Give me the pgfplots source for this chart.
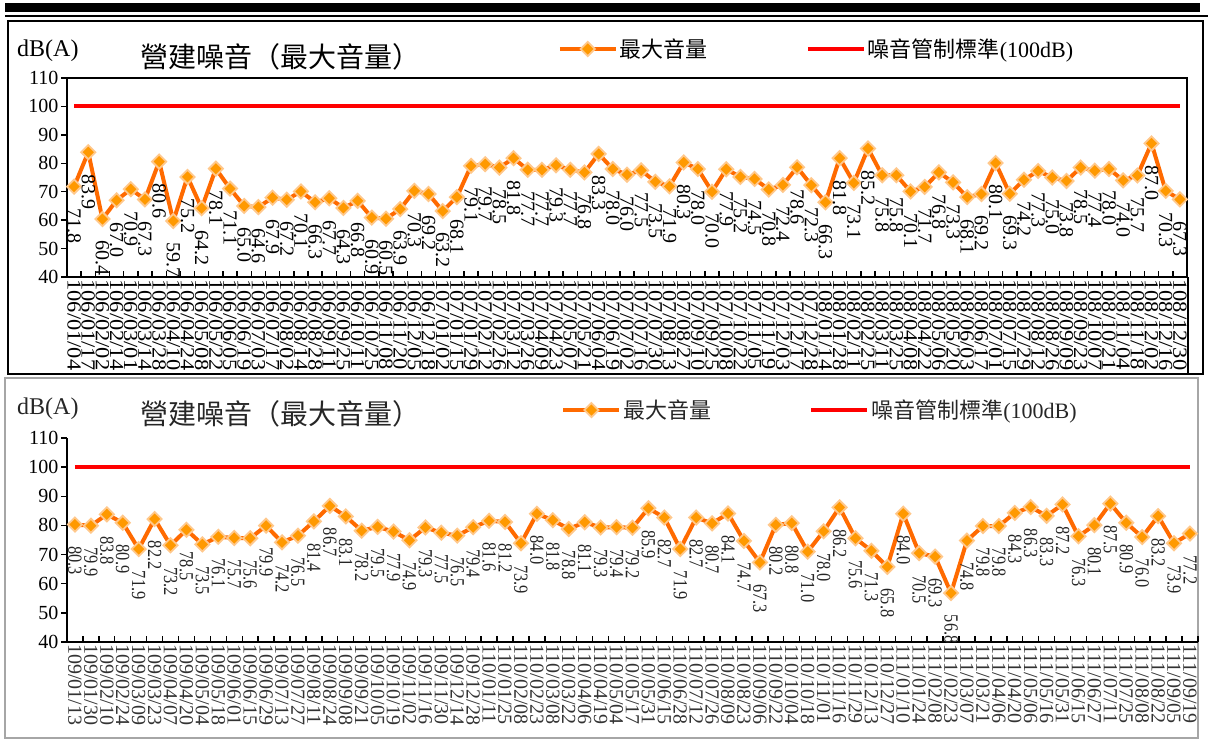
\documentclass[border=0pt]{standalone}
\usepackage{pgfplots}
\pgfplotsset{compat=1.18}
\usepackage{pgfplotstable}
\usepackage{fontspec}
\setmainfont{Liberation Serif}
\newfontfamily\cjk{Noto Sans CJK TC}
\definecolor{lineor}{HTML}{FF6A00}
\definecolor{markor}{HTML}{FF9900}
\definecolor{markedge}{HTML}{FFC88C}
\definecolor{redline}{HTML}{FF0000}

\pgfplotstableread{
x y
0 71.8
1 83.9
2 60.4
3 67.0
4 70.9
5 67.3
6 80.6
7 59.7
8 75.2
9 64.2
10 78.1
11 71.1
12 65.0
13 64.6
14 67.9
15 67.2
16 70.1
17 66.3
18 67.7
19 64.3
20 66.8
21 60.9
22 60.5
23 63.9
24 70.3
25 69.2
26 63.2
27 68.1
28 79.1
29 79.7
30 78.5
31 81.8
32 77.7
33 77.7
34 79.3
35 77.7
36 76.8
37 83.3
38 78.0
39 76.0
40 77.5
41 73.5
42 71.9
43 80.3
44 78.0
45 70.0
46 77.9
47 75.2
48 74.5
49 70.8
50 72.4
51 78.6
52 72.3
53 66.3
54 81.8
55 73.1
56 85.2
57 75.8
58 75.8
59 70.1
60 71.7
61 76.8
62 73.3
63 68.1
64 69.2
65 80.1
66 69.3
67 74.2
68 77.3
69 75.0
70 73.8
71 78.5
72 77.4
73 78.0
74 74.0
75 75.7
76 87.0
77 70.3
78 67.3
}\topdata

\pgfplotstableread{
x y
0 80.3
1 79.9
2 83.8
3 80.9
4 71.9
5 82.2
6 73.2
7 78.5
8 73.5
9 76.1
10 75.7
11 75.6
12 79.9
13 74.2
14 76.5
15 81.4
16 86.7
17 83.1
18 78.2
19 79.5
20 77.9
21 74.9
22 79.3
23 77.5
24 76.5
25 79.4
26 81.6
27 81.2
28 73.9
29 84.0
30 81.8
31 78.8
32 81.1
33 79.3
34 79.4
35 79.2
36 85.9
37 82.7
38 71.9
39 82.7
40 80.7
41 84.1
42 74.7
43 67.3
44 80.2
45 80.8
46 71.0
47 78.0
48 86.2
49 75.6
50 71.3
51 65.8
52 84.0
53 70.5
54 69.3
55 56.8
56 74.8
57 79.8
58 79.8
59 84.3
60 86.3
61 83.3
62 87.2
63 76.3
64 80.1
65 87.5
66 80.9
67 76.0
68 83.2
69 73.9
70 77.2
}\botdata

\pgfplotsset{
  noisestyle/.style={
    scale only axis,
    clip=false,
    ymin=40, ymax=110, ytick={40,50,...,110},
    xmin=-0.5,
    tick align=inside,
    xtick pos=bottom, ytick pos=left,
    x tick label as interval,
    axis line style={line width=2.2pt},
    major tick length=6pt,
    every tick/.style={black, line width=1.4pt},
    ytick style={xshift=-6pt},
    yticklabel style={font=\fontsize{20}{20}\selectfont, xshift=-5pt},
    /pgf/number format/assume math mode=true,
    xticklabel style={rotate=-90, anchor=west, font=\fontsize{20}{20}\selectfont, inner sep=2pt},
    legend style={draw=none, fill=none, legend columns=2, anchor=west, inner sep=0pt,
      font=\cjk\fontsize{22}{22}\selectfont,
      nodes={inner sep=2pt},
      /tikz/every even column/.append style={column sep=96pt}},
  },
  maxline/.style={lineor, line width=4pt,
      mark=square*, mark size=5pt,
      mark options={rotate=45, fill=markor, draw=markedge, line width=1.8pt, solid},
      legend image code/.code={\draw[##1, mark repeat=2, mark phase=2] plot coordinates {(0pt,0pt) (28pt,0pt) (56pt,0pt)};}},
  stdline/.style={redline, line width=4pt,
      legend image code/.code={\draw[##1] (0pt,0pt) -- (56pt,0pt);}},
}

\begin{document}
\begin{tikzpicture}
\useasboundingbox (0,0) rectangle (1208pt,-740pt);
% header bars and frames
\fill[black] (5pt,-3pt) rectangle (1200pt,-12pt);
\fill[black] (5pt,-14.5pt) rectangle (1208pt,-17pt);
\draw[black, line width=2pt] (8pt,-21pt) rectangle (1203pt,-374pt);
\draw[black, line width=1.5pt] (1188pt,-277pt) -- (1188pt,-374pt);
\draw[gray!70, line width=1.5pt] (5pt,-378pt) rectangle (1198pt,-738pt);

% ---------- top panel ----------
\node[anchor=west, inner sep=0pt, font=\fontsize{24}{24}\selectfont] at (17pt,-51pt) {dB(A)};
\node[anchor=west, inner sep=0pt, font=\cjk\fontsize{28}{28}\selectfont] at (140pt,-57pt) {營建噪音（最大音量）};
\begin{axis}[noisestyle,
  at={(67pt,-277pt)}, anchor=south west,
  width=1120pt, height=199pt,
  xmax=78.5,
  xtick={-0.5,0.5,...,78.5},
  xticklabel style={xscale=1.12},
  xticklabels={106/01/04,106/01/17,106/02/02,106/02/14,106/03/01,106/03/14,106/03/28,106/04/10,106/04/24,106/05/08,106/05/22,106/06/05,106/06/19,106/07/03,106/07/17,106/08/02,106/08/14,106/08/28,106/09/11,106/09/25,106/10/11,106/10/25,106/11/08,106/11/20,106/12/05,106/12/18,107/01/02,107/01/15,107/01/29,107/02/12,107/02/26,107/03/12,107/03/26,107/04/09,107/04/23,107/05/07,107/05/21,107/06/04,107/06/19,107/07/02,107/07/16,107/07/30,107/08/13,107/08/27,107/09/10,107/09/25,107/10/08,107/10/22,107/11/05,107/11/19,107/12/03,107/12/17,107/12/28,108/01/14,108/01/28,108/02/11,108/02/25,108/03/11,108/03/25,108/04/08,108/04/22,108/05/06,108/05/20,108/06/03,108/06/17,108/07/01,108/07/15,108/07/29,108/08/12,108/08/26,108/09/09,108/09/23,108/10/07,108/10/21,108/11/04,108/11/18,108/12/02,108/12/16,108/12/30},
  legend style={at={(0.438,1.146)}},
]
\addplot[maxline, point meta=y,
  nodes near coords={\pgfmathprintnumber[fixed,fixed zerofill,precision=1]{\pgfplotspointmeta}},
  nodes near coords style={font=\fontsize{20}{20}\selectfont, black, anchor=west, yshift=-21pt, rotate=-90, inner sep=0pt}]
  table[x=x,y=y]{\topdata};
\addlegendentry{最大音量}
\addplot[stdline] coordinates {(0,100) (78,100)};
\addlegendentry{噪音管制標準\fontspec{Liberation Serif}(100dB)}
\end{axis}

% ---------- bottom panel ----------
\node[anchor=west, inner sep=0pt, font=\fontsize{24}{24}\selectfont, black!85] at (17pt,-409pt) {dB(A)};
\node[anchor=west, inner sep=0pt, font=\cjk\fontsize{28}{28}\selectfont, black!85] at (140pt,-414pt) {營建噪音（最大音量）};
\begin{axis}[noisestyle,
  at={(67pt,-642pt)}, anchor=south west,
  width=1131pt, height=204pt,
  xmax=70.5,
  axis x line*=bottom, axis y line*=left,
  xtick={-0.5,0.5,...,70.5},
  xticklabel style={black!80},
  xticklabels={109/01/13,109/01/30,109/02/10,109/02/24,109/03/09,109/03/23,109/04/07,109/04/20,109/05/04,109/05/18,109/06/01,109/06/15,109/06/29,109/07/13,109/07/27,109/08/11,109/08/24,109/09/08,109/09/21,109/10/05,109/10/19,109/11/02,109/11/16,109/11/30,109/12/14,109/12/28,110/01/11,110/01/25,110/02/08,110/02/23,110/03/08,110/03/22,110/04/06,110/04/19,110/05/04,110/05/17,110/05/31,110/06/15,110/06/28,110/07/12,110/07/26,110/08/09,110/08/23,110/09/06,110/09/22,110/10/04,110/10/18,110/11/01,110/11/16,110/11/29,110/12/13,110/12/27,111/01/10,111/01/24,111/02/08,111/02/23,111/03/07,111/03/21,111/04/06,111/04/20,111/05/06,111/05/16,111/05/31,111/06/15,111/06/27,111/07/11,111/07/25,111/08/08,111/08/22,111/09/05,111/09/19},
  legend style={at={(0.437,1.137)}, text=black!85},
]
\addplot[maxline, point meta=y,
  nodes near coords={\scalebox{0.82}[1]{\pgfmathprintnumber[fixed,fixed zerofill,precision=1]{\pgfplotspointmeta}}},
  nodes near coords style={font=\fontsize{20}{20}\selectfont, black!85, anchor=west, yshift=-21pt, rotate=-90, inner sep=0pt}]
  table[x=x,y=y]{\botdata};
\addlegendentry{最大音量}
\addplot[stdline] coordinates {(0,100) (70,100)};
\addlegendentry{噪音管制標準\fontspec{Liberation Serif}(100dB)}
\end{axis}
\end{tikzpicture}
\end{document}
